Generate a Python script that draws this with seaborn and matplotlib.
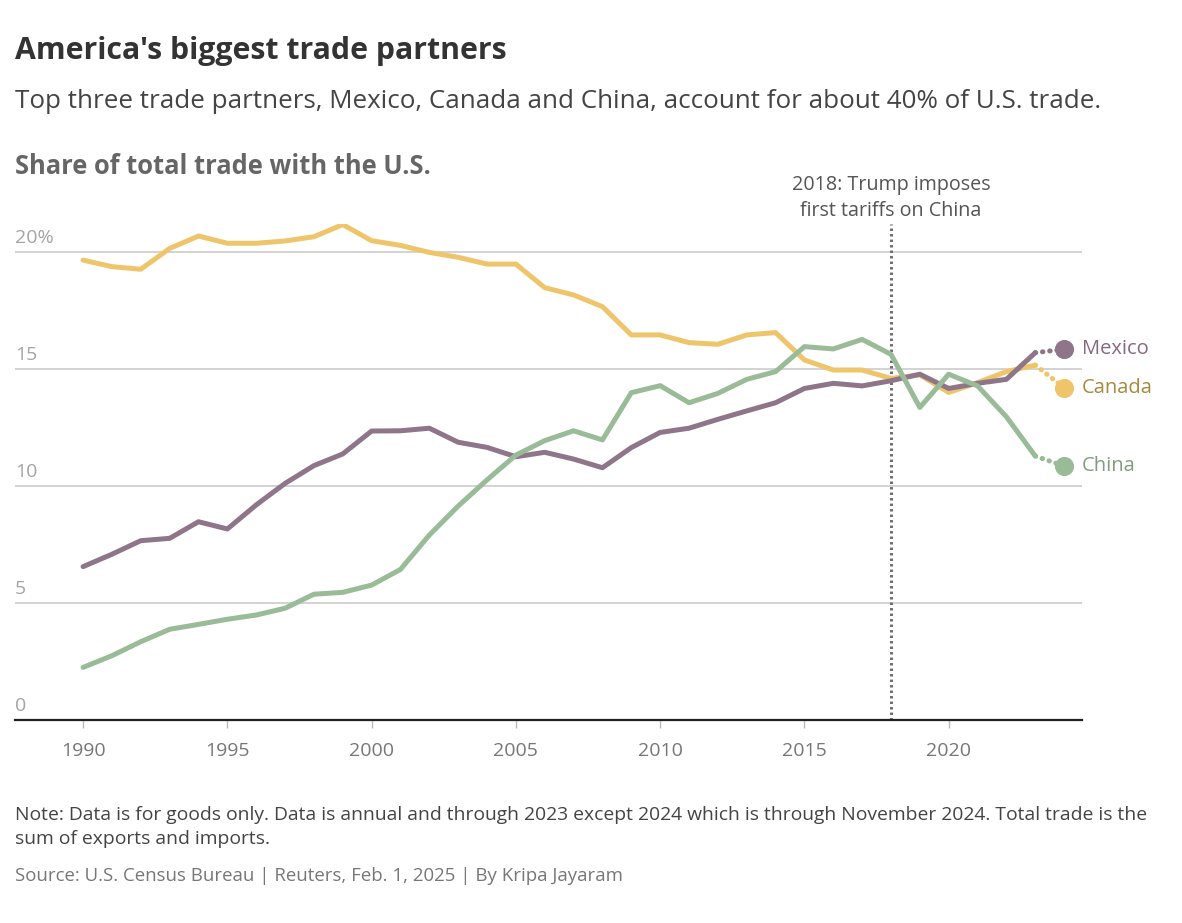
import pandas as pd
import matplotlib.pyplot as plt
import seaborn as sns
import matplotlib.transforms as mtransforms

sns.set_theme(style="white")
plt.rcParams['font.family'] = ['Open Sans', 'DejaVu Sans']

# Share of total US trade (%)
years = list(range(1990, 2025))
canada = [19.67, 19.39, 19.28, 20.17, 20.70, 20.39, 20.39, 20.49, 20.67, 21.19, 20.50,
          20.30, 20.00, 19.79, 19.50, 19.50, 18.49, 18.18, 17.68, 16.47, 16.47, 16.14,
          16.07, 16.47, 16.57, 15.40, 14.97, 14.97, 14.61, 14.76, 14.01, 14.43, 14.90,
          15.18, 14.21]
mexico = [6.56, 7.09, 7.67, 7.77, 8.48, 8.17, 9.20, 10.12, 10.88, 11.38, 12.36,
          12.37, 12.48, 11.88, 11.66, 11.26, 11.45, 11.16, 10.79, 11.65, 12.30, 12.48,
          12.86, 13.22, 13.57, 14.18, 14.40, 14.29, 14.51, 14.79, 14.18, 14.40, 14.57,
          15.71, 15.86]
china = [2.25, 2.75, 3.35, 3.88, 4.09, 4.31, 4.49, 4.78, 5.38, 5.46, 5.77, 6.44,
         7.91, 9.15, 10.27, 11.33, 11.95, 12.37, 11.98, 14.00, 14.30, 13.57, 13.97,
         14.57, 14.90, 15.97, 15.87, 16.28, 15.64, 13.37, 14.79, 14.29, 12.97, 11.29,
         10.86]
partners = ['Canada', 'Mexico', 'China']
y_ticks = [0, 5, 10, 15, 20]
y_tick_labels = ['0', '5', '10', '15', '20%']
x_ticks = [1990, 1995, 2000, 2005, 2010, 2015, 2020]

line_colors = {'Canada': '#eec56b', 'Mexico': '#8f7589', 'China': '#99bb98'}
label_colors = {'Canada': '#a88a3e', 'Mexico': '#85697f', 'China': '#7f9e7e'}

series = {'Canada': canada, 'Mexico': mexico, 'China': china}
df = pd.DataFrame([
    {'year': y, 'share': v, 'partner': p}
    for p in partners for y, v in zip(years, series[p])
])
full_year = df[df['year'] <= 2023]
latest = df[df['year'] >= 2023]

W, H = 1182, 923
fig = plt.figure(figsize=(W / 100, H / 100), dpi=100)
ax = fig.add_axes([15 / W, 1 - 720 / H, (1082 - 15) / W, (720 - 224) / H])

for y in y_ticks[1:]:
    ax.axhline(y, color='#cccccc', lw=1.2, zorder=0)

sns.lineplot(data=full_year, x='year', y='share', hue='partner', palette=line_colors,
             lw=3.6, legend=False, ax=ax, zorder=3, solid_capstyle='round')

for p in partners:
    seg = latest[latest['partner'] == p]
    ax.plot(seg['year'], seg['share'], color=line_colors[p], lw=3.6,
            ls=(0, (0.1, 1.35)), dash_capstyle='round', zorder=3)
    last = seg[seg['year'] == 2024]
    ax.scatter(last['year'], last['share'], s=190, color=line_colors[p],
               zorder=4, clip_on=False, linewidths=0)
    ax.annotate(p, (last['year'].iloc[0], last['share'].iloc[0]),
                xytext=(13, 0), textcoords='offset points', va='center', ha='left',
                fontsize=14.5, color=label_colors[p], annotation_clip=False)

# 2018 tariff marker
ax.axvline(2018, ymin=0, ymax=1, color='#6f6f6f', lw=2.2, ls=(0, (0.8, 1.0)), zorder=2)
ax.text(2018, 22.33, '2018: Trump imposes\nfirst tariffs on China', ha='center',
        va='center', fontsize=14.2, color='#555555', linespacing=1.4, clip_on=False)

ax.set_xlim(1987.64, 2024.62)
ax.set_ylim(0, (720 - 224) / 23.38)
ax.set_xlabel('')
ax.set_ylabel('')
ax.set_yticks([])
ax.set_xticks(x_ticks)
ax.set_xticklabels([str(x) for x in x_ticks])
ax.tick_params(axis='x', length=6, width=1, color='#bbbbbb', direction='out',
               pad=10, labelsize=14, labelcolor='#777777', bottom=True)
for side in ['top', 'right', 'left']:
    ax.spines[side].set_visible(False)
ax.spines['bottom'].set_color('#222222')
ax.spines['bottom'].set_linewidth(1.6)

trans = mtransforms.blended_transform_factory(ax.transAxes, ax.transData)
for y, lab in zip(y_ticks, y_tick_labels):
    ax.text(0, y + 0.22, lab, transform=trans, ha='left', va='bottom',
            fontsize=14, color='#a5a5a5')

fig.text(15 / W, 1 - 51 / H, "America's biggest trade partners", fontsize=21.8,
         fontweight='bold', color='#333333', va='center', ha='left')
fig.text(15 / W, 1 - 101 / H,
         'Top three trade partners, Mexico, Canada and China, account for about 40% of U.S. trade.',
         fontsize=18.7, color='#444444', va='center', ha='left')
fig.text(15 / W, 1 - 166 / H, 'Share of total trade with the U.S.', fontsize=18.4,
         fontweight='bold', color='#666666', va='center', ha='left')
fig.text(15 / W, 1 - 827 / H,
         'Note: Data is for goods only. Data is annual and through 2023 except 2024 which is through November 2024. Total trade is the\nsum of exports and imports.',
         fontsize=13.9, color='#444444', va='center', ha='left', linespacing=1.5)
fig.text(15 / W, 1 - 876 / H,
         'Source: U.S. Census Bureau | Reuters, Feb. 1, 2025 | By Kripa Jayaram',
         fontsize=13.4, color='#777777', va='center', ha='left')

fig.savefig('out.png', dpi=100, facecolor='white')
